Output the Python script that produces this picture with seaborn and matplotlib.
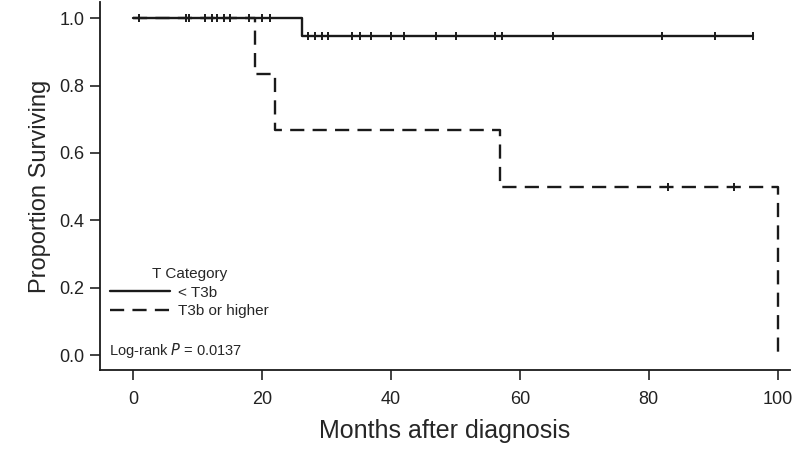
import numpy as np
import pandas as pd
import matplotlib
matplotlib.use("Agg")
import matplotlib.pyplot as plt
import seaborn as sns
from matplotlib.lines import Line2D

# Kaplan-Meier step points
low_months = [0, 26.2, 96.1]
low_surv = [1.0, 0.947, 0.947]
high_months = [0, 19.0, 22.0, 57.0, 100.0]
high_surv = [1.0, 0.833, 0.667, 0.5, 0.0]

# censored observations
low_cens_1 = [0.9, 8.2, 8.7, 11.2, 12.2, 13.0, 14.1, 15.0, 18.0, 20.0, 21.2]
low_cens_2 = [27.1, 28.2, 29.3, 30.2, 34.0, 35.2, 37.0, 40.1, 42.0, 47.0,
              50.1, 56.1, 57.2, 65.1, 82.0, 90.2, 96.1]
high_cens = [83.0, 93.2]

sns.set_style("ticks")
plt.rcParams["font.family"] = ["Liberation Sans", "DejaVu Sans"]

fig = plt.figure(figsize=(8, 4.54), dpi=100)
ax = fig.add_axes([0.125, 0.185, 0.8625, 0.81])

col = "#1a1a1a"
dash = (0, (6, 3.5))
low_df = pd.DataFrame({"Months": low_months, "Surv": low_surv})
high_df = pd.DataFrame({"Months": high_months, "Surv": high_surv})

sns.lineplot(data=high_df, x="Months", y="Surv", ax=ax, drawstyle="steps-post",
             color=col, lw=1.7, linestyle=dash)
sns.lineplot(data=low_df, x="Months", y="Surv", ax=ax, drawstyle="steps-post",
             color=col, lw=1.7)

cens = pd.DataFrame({
    "Months": low_cens_1 + low_cens_2 + high_cens,
    "Surv": [1.0] * len(low_cens_1) + [0.947] * len(low_cens_2) + [0.5] * len(high_cens),
})
sns.scatterplot(data=cens, x="Months", y="Surv", ax=ax, marker="|", s=35,
                color=col, linewidth=1.4)

ax.set_xlim(-5.1, 101.9)
ax.set_ylim(-0.044, 1.047)
ax.set_xticks([0, 20, 40, 60, 80, 100])
ax.set_yticks([0.0, 0.2, 0.4, 0.6, 0.8, 1.0])
ax.set_yticklabels(["0.0", "0.2", "0.4", "0.6", "0.8", "1.0"])
ax.tick_params(labelsize=13, length=7, width=1.2, colors="#222222", pad=8)
ax.tick_params(axis="y", pad=4)
for s in ["left", "bottom"]:
    ax.spines[s].set_linewidth(1.3)
    ax.spines[s].set_color(col)
sns.despine(ax=ax)

ax.set_xlabel("Months after diagnosis", fontsize=18, labelpad=8)
ax.set_ylabel("Proportion Surviving", fontsize=17, labelpad=6)

handles = [Line2D([], [], color=col, lw=1.7),
           Line2D([], [], color=col, lw=1.7, linestyle=dash)]
leg = ax.legend(handles, ["< T3b", "T3b or higher"], title="T Category",
                loc="upper left", bbox_to_anchor=(0.0145, 0.28), frameon=False,
                fontsize=11, title_fontsize=11, handlelength=3.9,
                labelspacing=0.3, handletextpad=0.55, borderaxespad=0,
                borderpad=0)

ax.text(0.013, 0.028, "Log-rank $\\it{P}$ = 0.0137", transform=ax.transAxes,
        fontsize=10.5, ha="left", va="bottom")

fig.savefig("out.png", dpi=100)
